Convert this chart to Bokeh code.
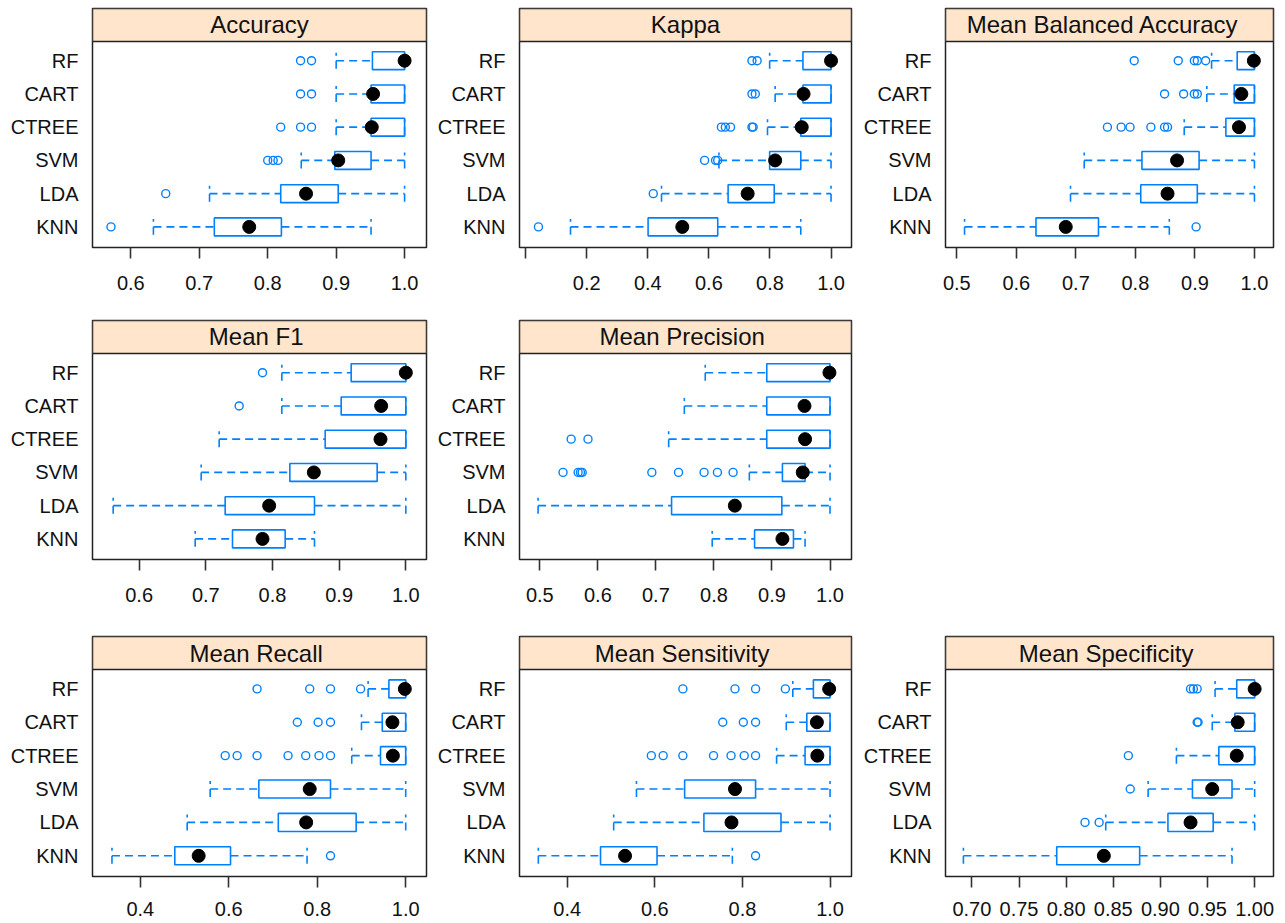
from bokeh.plotting import figure
from bokeh.layouts import gridplot
from bokeh.models import Range1d, FixedTicker, ColumnDataSource
from bokeh.transform import dodge
from bokeh.core.properties import value
from bokeh.embed import file_html
from bokeh.resources import INLINE

models = ["RF", "CART", "CTREE", "SVM", "LDA", "KNN"]

# ---- Accuracy
acc_lo = [0.900, 0.900, 0.900, 0.849, 0.715, 0.633]
acc_q1 = [0.953, 0.951, 0.951, 0.898, 0.819, 0.722]
acc_med = [1.000, 0.954, 0.952, 0.903, 0.856, 0.773]
acc_q3 = [1.000, 1.000, 1.000, 0.951, 0.903, 0.820]
acc_hi = [1.000, 1.000, 1.000, 1.000, 1.000, 0.951]
acc_out_model = ["RF", "RF", "CART", "CART", "CTREE", "CTREE", "CTREE", "SVM", "SVM", "SVM", "LDA", "KNN"]
acc_out_val = [0.848, 0.864, 0.848, 0.864, 0.819, 0.848, 0.864, 0.800, 0.808, 0.815, 0.651, 0.571]
acc_ticks = [0.6, 0.7, 0.8, 0.9, 1.0]
acc_labels = ["0.6", "0.7", "0.8", "0.9", "1.0"]

# ---- Kappa
kap_lo = [0.799, 0.817, 0.792, 0.633, 0.445, 0.147]
kap_q1 = [0.908, 0.908, 0.901, 0.799, 0.663, 0.401]
kap_med = [1.000, 0.910, 0.904, 0.817, 0.727, 0.513]
kap_q3 = [1.000, 1.000, 1.000, 0.901, 0.814, 0.629]
kap_hi = [1.000, 1.000, 1.000, 1.000, 1.000, 0.901]
kap_out_model = ["RF", "RF", "CART", "CART", "CTREE", "CTREE", "CTREE", "CTREE", "CTREE",
                 "SVM", "SVM", "SVM", "LDA", "KNN"]
kap_out_val = [0.741, 0.758, 0.741, 0.752, 0.641, 0.654, 0.671, 0.741, 0.745,
               0.586, 0.622, 0.629, 0.418, 0.042]
kap_ticks = [0.0, 0.2, 0.4, 0.6, 0.8, 1.0]
kap_labels = ["", "0.2", "0.4", "0.6", "0.8", "1.0"]

# ---- Mean Balanced Accuracy
mba_lo = [0.928, 0.920, 0.882, 0.714, 0.691, 0.513]
mba_q1 = [0.971, 0.966, 0.952, 0.811, 0.809, 0.633]
mba_med = [0.999, 0.978, 0.974, 0.870, 0.854, 0.683]
mba_q3 = [1.000, 1.000, 1.000, 0.907, 0.904, 0.738]
mba_hi = [1.000, 1.000, 1.000, 1.000, 1.000, 0.857]
mba_out_model = ["RF", "RF", "RF", "RF", "RF", "CART", "CART", "CART", "CART",
                 "CTREE", "CTREE", "CTREE", "CTREE", "CTREE", "CTREE", "KNN"]
mba_out_val = [0.798, 0.872, 0.899, 0.904, 0.918, 0.849, 0.881, 0.899, 0.904,
               0.753, 0.776, 0.791, 0.826, 0.849, 0.854, 0.902]
mba_ticks = [0.5, 0.6, 0.7, 0.8, 0.9, 1.0]
mba_labels = ["0.5", "0.6", "0.7", "0.8", "0.9", "1.0"]

# ---- Mean F1
f1_lo = [0.814, 0.814, 0.720, 0.693, 0.561, 0.684]
f1_q1 = [0.918, 0.903, 0.879, 0.826, 0.729, 0.740]
f1_med = [1.000, 0.963, 0.962, 0.862, 0.795, 0.785]
f1_q3 = [1.000, 1.000, 1.000, 0.957, 0.863, 0.819]
f1_hi = [1.000, 1.000, 1.000, 1.000, 1.000, 0.863]
f1_out_model = ["RF", "CART"]
f1_out_val = [0.785, 0.750]
f1_ticks = [0.6, 0.7, 0.8, 0.9, 1.0]
f1_labels = ["0.6", "0.7", "0.8", "0.9", "1.0"]

# ---- Mean Precision
prec_lo = [0.785, 0.749, 0.722, 0.861, 0.497, 0.797]
prec_q1 = [0.891, 0.891, 0.891, 0.918, 0.727, 0.870]
prec_med = [0.999, 0.956, 0.957, 0.953, 0.836, 0.918]
prec_q3 = [1.000, 1.000, 1.000, 0.957, 0.917, 0.937]
prec_hi = [1.000, 1.000, 1.000, 1.000, 1.000, 0.957]
prec_out_model = ["CTREE", "CTREE", "SVM", "SVM", "SVM", "SVM", "SVM", "SVM", "SVM", "SVM", "SVM"]
prec_out_val = [0.554, 0.583, 0.540, 0.566, 0.570, 0.573, 0.693, 0.739, 0.783, 0.806, 0.833]
prec_ticks = [0.5, 0.6, 0.7, 0.8, 0.9, 1.0]
prec_labels = ["0.5", "0.6", "0.7", "0.8", "0.9", "1.0"]

# ---- Mean Recall
rec_lo = [0.915, 0.900, 0.878, 0.558, 0.506, 0.336]
rec_q1 = [0.962, 0.947, 0.943, 0.668, 0.712, 0.478]
rec_med = [0.998, 0.970, 0.971, 0.783, 0.775, 0.532]
rec_q3 = [1.000, 1.000, 1.000, 0.830, 0.888, 0.604]
rec_hi = [1.000, 1.000, 1.000, 1.000, 1.000, 0.777]
rec_out_model = ["RF", "RF", "RF", "RF", "CART", "CART", "CART",
                 "CTREE", "CTREE", "CTREE", "CTREE", "CTREE", "CTREE", "CTREE", "KNN"]
rec_out_val = [0.664, 0.783, 0.830, 0.898, 0.755, 0.802, 0.830,
               0.592, 0.619, 0.664, 0.734, 0.774, 0.804, 0.830, 0.830]
rec_ticks = [0.4, 0.6, 0.8, 1.0]
rec_labels = ["0.4", "0.6", "0.8", "1.0"]

# ---- Mean Sensitivity
sen_lo = [0.915, 0.900, 0.878, 0.558, 0.506, 0.334]
sen_q1 = [0.962, 0.947, 0.943, 0.668, 0.712, 0.476]
sen_med = [0.998, 0.970, 0.971, 0.783, 0.775, 0.532]
sen_q3 = [1.000, 1.000, 1.000, 0.830, 0.888, 0.605]
sen_hi = [1.000, 1.000, 1.000, 1.000, 1.000, 0.777]
sen_out_model = ["RF", "RF", "RF", "RF", "CART", "CART", "CART",
                 "CTREE", "CTREE", "CTREE", "CTREE", "CTREE", "CTREE", "CTREE", "KNN"]
sen_out_val = [0.664, 0.783, 0.830, 0.898, 0.755, 0.802, 0.830,
               0.592, 0.619, 0.664, 0.734, 0.774, 0.804, 0.830, 0.830]
sen_ticks = [0.4, 0.6, 0.8, 1.0]
sen_labels = ["0.4", "0.6", "0.8", "1.0"]

# ---- Mean Specificity
spe_lo = [0.958, 0.955, 0.917, 0.887, 0.842, 0.691]
spe_q1 = [0.981, 0.979, 0.962, 0.934, 0.908, 0.790]
spe_med = [1.000, 0.982, 0.981, 0.955, 0.932, 0.840]
spe_q3 = [1.000, 1.000, 1.000, 0.976, 0.956, 0.878]
spe_hi = [1.000, 1.000, 1.000, 1.000, 1.000, 0.976]
spe_out_model = ["RF", "RF", "RF", "CART", "CART", "CTREE", "SVM", "LDA", "LDA"]
spe_out_val = [0.932, 0.935, 0.939, 0.939, 0.940, 0.866, 0.868, 0.820, 0.835]
spe_ticks = [0.70, 0.75, 0.80, 0.85, 0.90, 0.95, 1.00]
spe_labels = ["0.70", "0.75", "0.80", "0.85", "0.90", "0.95", "1.00"]

# ---------------------------------------------------------------------------
FONT = "Liberation Sans"
BLUE = "#0080FF"
STRIP_FILL = "#FFE5CC"
FRAME = "#222222"
pos = {m: len(models) - i for i, m in enumerate(models)}
Y0, STRIP_LO, Y1 = 0.38, 6.58, 7.57
HALF = 0.27

col_w = [434, 426, 421]
col_l = [92, 83, 82]
col_r = [8, 9, 8]
row_h = [319, 316, 287]
row_t = [8, 1, 1]
row_b = [72, 76, 46]
row_standoff = [17, 17, 14]


def panel(title, lo, q1, med, q3, hi, out_m, out_v, xr, ticks, labels, ci, ri):
    p = figure(width=col_w[ci], height=row_h[ri],
               x_range=Range1d(xr[0], xr[1]), y_range=Range1d(Y0, Y1),
               output_backend="svg", toolbar_location=None,
               min_border_left=col_l[ci], min_border_right=col_r[ci],
               min_border_top=row_t[ri], min_border_bottom=row_b[ri],
               background_fill_color="white", border_fill_color="white")
    p.grid.visible = False
    p.outline_line_color = FRAME
    p.outline_line_width = 1.5
    p.outline_line_alpha = 1.0

    # strip
    p.quad(left=[xr[0]], right=[xr[1]], bottom=[STRIP_LO], top=[Y1],
           fill_color=STRIP_FILL, line_color=FRAME, line_width=1.5)
    p.text(x=[(xr[0] + xr[1]) / 2], y=[(STRIP_LO + Y1) / 2], text=[title],
           text_align="center", text_baseline="middle",
           text_font=value(FONT), text_font_size="24px", text_color="#111111")

    src = ColumnDataSource(dict(y=[pos[m] for m in models], lo=lo, q1=q1,
                                med=med, q3=q3, hi=hi))
    dash = "8 5"
    p.segment(x0="lo", y0="y", x1="q1", y1="y", source=src,
              line_color=BLUE, line_width=1.6, line_dash=dash)
    p.segment(x0="q3", y0="y", x1="hi", y1="y", source=src,
              line_color=BLUE, line_width=1.6, line_dash=dash)
    p.segment(x0="lo", y0=dodge("y", -0.24), x1="lo", y1=dodge("y", 0.24), source=src,
              line_color=BLUE, line_width=1.6, line_dash=dash)
    p.segment(x0="hi", y0=dodge("y", -0.24), x1="hi", y1=dodge("y", 0.24), source=src,
              line_color=BLUE, line_width=1.6, line_dash=dash)
    p.hbar(y="y", left="q1", right="q3", height=2 * HALF, source=src,
           fill_color=None, line_color=BLUE, line_width=1.6)
    osrc = ColumnDataSource(dict(y=[pos[m] for m in out_m], x=out_v))
    p.scatter(x="x", y="y", source=osrc, marker="circle", size=8,
              fill_color=None, line_color=BLUE, line_width=1.4)
    p.scatter(x="med", y="y", source=src, marker="circle", size=13,
              fill_color="black", line_color="black")

    # axes
    xa = p.xaxis[0]
    xa.ticker = FixedTicker(ticks=ticks)
    xa.major_label_overrides = {t: l for t, l in zip(ticks, labels)}
    xa.axis_line_color = None
    xa.major_tick_in = 0
    xa.major_tick_out = 11
    xa.major_tick_line_color = "#333333"
    xa.major_tick_line_width = 1.6
    xa.minor_tick_line_color = None
    xa.minor_tick_out = 0
    xa.major_label_standoff = row_standoff[ri]
    xa.major_label_text_font = FONT
    xa.major_label_text_font_size = "20px"
    xa.major_label_text_color = "#111111"

    ya = p.yaxis[0]
    ya.ticker = FixedTicker(ticks=[pos[m] for m in models])
    ya.major_label_overrides = {pos[m]: m for m in models}
    ya.axis_line_color = None
    ya.major_tick_line_color = None
    ya.major_tick_out = 0
    ya.major_tick_in = 0
    ya.minor_tick_line_color = None
    ya.minor_tick_out = 0
    ya.major_label_standoff = 14
    ya.major_label_text_font = FONT
    ya.major_label_text_font_size = "20px"
    ya.major_label_text_color = "#111111"
    return p


p1 = panel("Accuracy", acc_lo, acc_q1, acc_med, acc_q3, acc_hi, acc_out_model, acc_out_val,
           (0.544, 1.032), acc_ticks, acc_labels, 0, 0)
p2 = panel("Kappa", kap_lo, kap_q1, kap_med, kap_q3, kap_hi, kap_out_model, kap_out_val,
           (-0.020, 1.067), kap_ticks, kap_labels, 1, 0)
p3 = panel("Mean  Balanced  Accuracy", mba_lo, mba_q1, mba_med, mba_q3, mba_hi,
           mba_out_model, mba_out_val, (0.481, 1.032), mba_ticks, mba_labels, 2, 0)
p4 = panel("Mean  F1", f1_lo, f1_q1, f1_med, f1_q3, f1_hi, f1_out_model, f1_out_val,
           (0.530, 1.031), f1_ticks, f1_labels, 0, 1)
p5 = panel("Mean  Precision", prec_lo, prec_q1, prec_med, prec_q3, prec_hi,
           prec_out_model, prec_out_val, (0.465, 1.037), prec_ticks, prec_labels, 1, 1)
p6 = panel("Mean  Recall", rec_lo, rec_q1, rec_med, rec_q3, rec_hi, rec_out_model, rec_out_val,
           (0.292, 1.047), rec_ticks, rec_labels, 0, 2)
p7 = panel("Mean  Sensitivity", sen_lo, sen_q1, sen_med, sen_q3, sen_hi, sen_out_model,
           sen_out_val, (0.291, 1.049), sen_ticks, sen_labels, 1, 2)
p8 = panel("Mean  Specificity", spe_lo, spe_q1, spe_med, spe_q3, spe_hi, spe_out_model,
           spe_out_val, (0.672, 1.020), spe_ticks, spe_labels, 2, 2)

grid = gridplot([[p1, p2, p3], [p4, p5, None], [p6, p7, p8]], toolbar_location=None)

open("out.html", "w").write(file_html(grid, INLINE))
